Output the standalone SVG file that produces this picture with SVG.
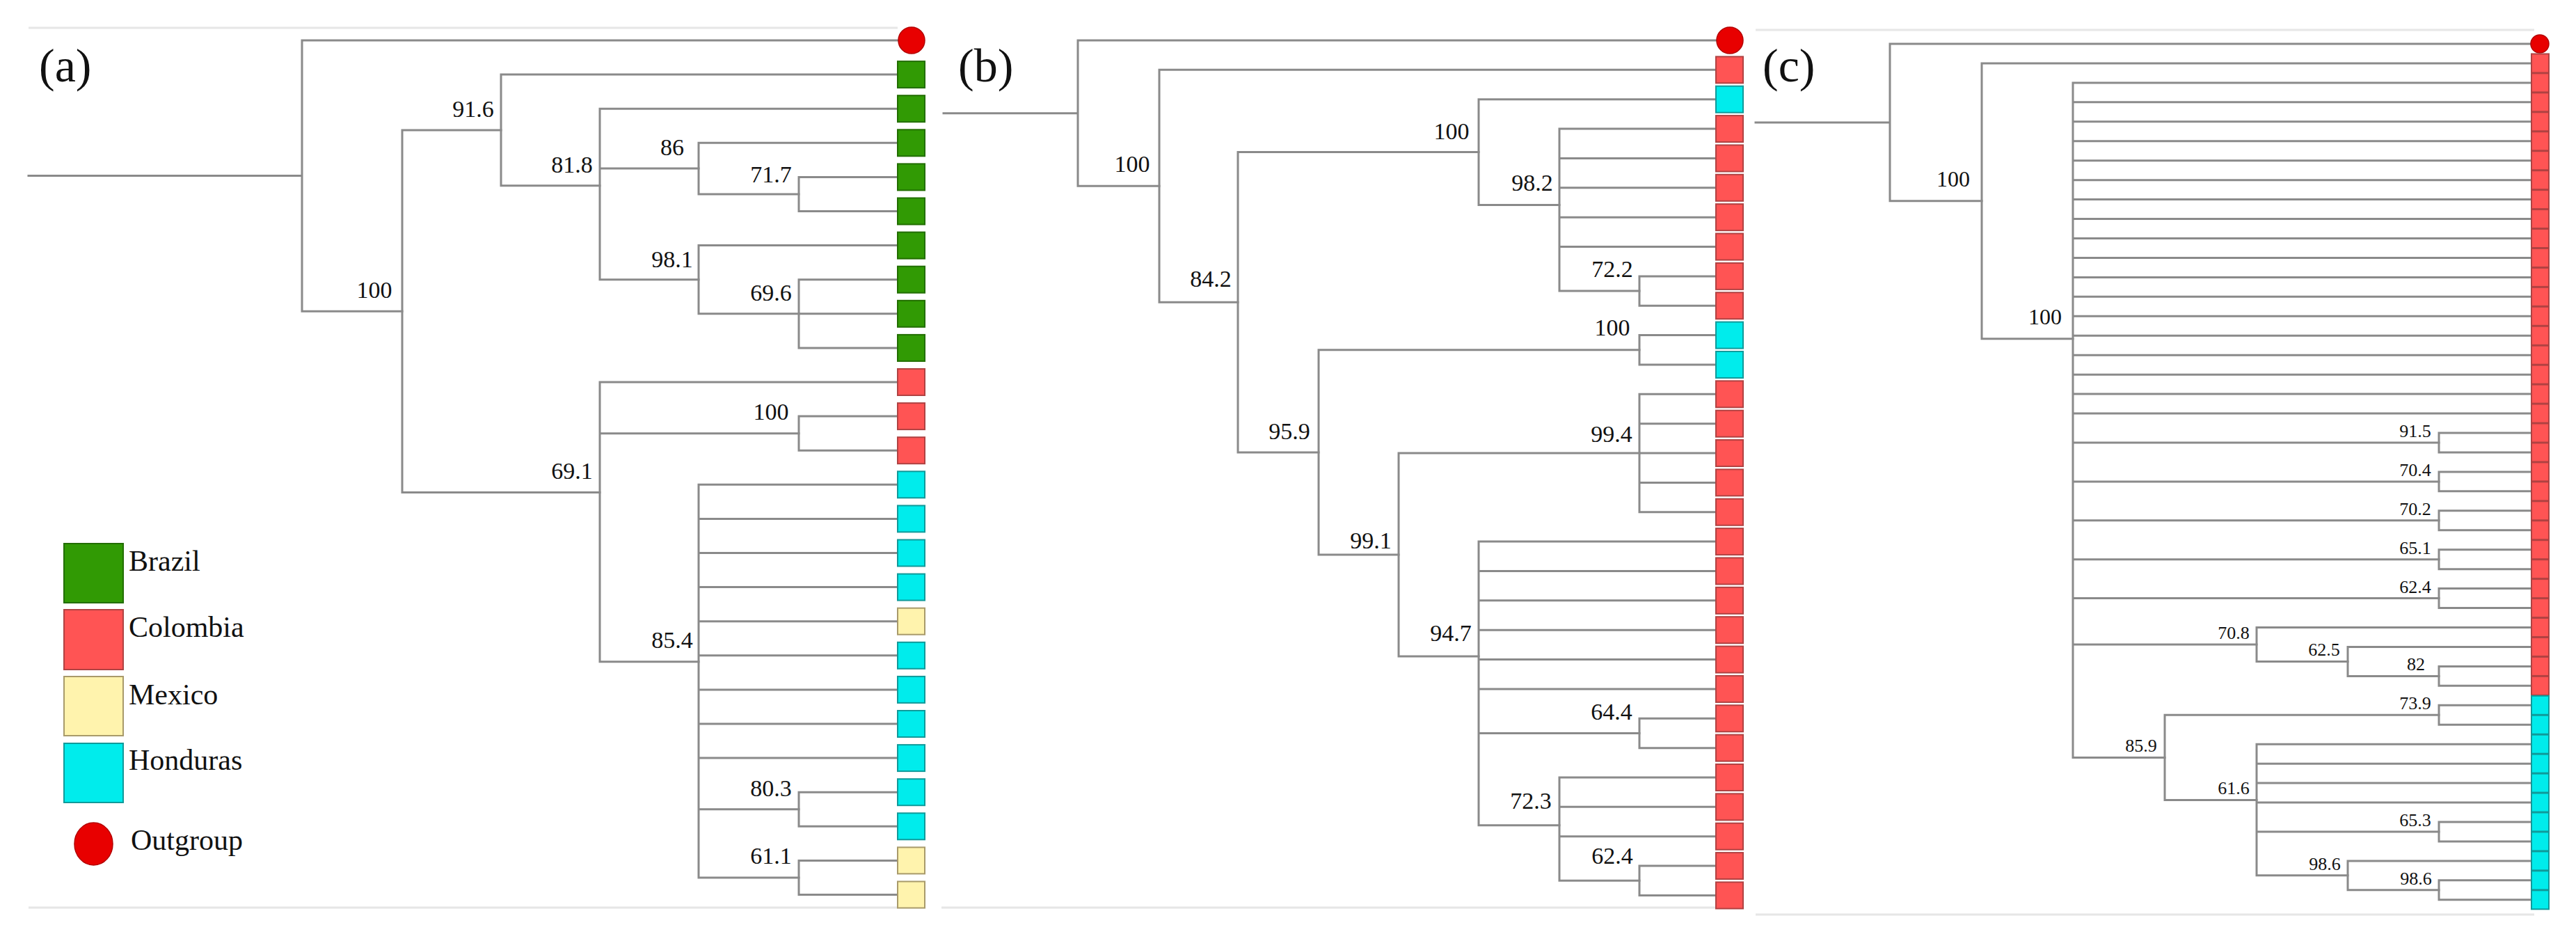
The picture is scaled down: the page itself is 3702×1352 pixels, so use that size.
<svg xmlns="http://www.w3.org/2000/svg" width="3702" height="1352" viewBox="0 0 3702 1352">
<style>
.br{fill:none;stroke:#8a8a8a;stroke-width:3;stroke-linecap:square}
.fr{stroke:#e6e6e6;stroke-width:3}
.g{fill:#319a04;stroke:#226e00;stroke-width:2}
.r{fill:#ff5454;stroke:#b04242;stroke-width:2}
.c{fill:#00ecec;stroke:#109a9a;stroke-width:2}
.y{fill:#fff3ad;stroke:#a89a6a;stroke-width:2}
.o{fill:#e80000;stroke:#b40000;stroke-width:1.5}
.lb{font-family:"Liberation Serif","Times New Roman",serif;font-size:34px;fill:#111;text-anchor:middle}
.ls{font-family:"Liberation Serif","Times New Roman",serif;font-size:26px;fill:#111;text-anchor:middle}
.lm{font-family:"Liberation Serif","Times New Roman",serif;font-size:32px;fill:#111;text-anchor:middle}
.pl{font-family:"Liberation Serif","Times New Roman",serif;font-size:68px;fill:#111}
.lg{font-family:"Liberation Serif","Times New Roman",serif;font-size:42px;fill:#111}
</style>
<rect width="3702" height="1352" fill="#fff"/>
<g id="frames">
<line class="fr" x1="41" y1="40" x2="1290" y2="40"/>
<line class="fr" x1="41" y1="1304" x2="1290" y2="1304"/>
<line class="fr" x1="1353" y1="1304" x2="2466" y2="1304"/>
<line class="fr" x1="2523" y1="43" x2="3642" y2="43"/>
<line class="fr" x1="2523" y1="1314" x2="3642" y2="1314"/>
</g>
<g id="panel-labels">
<text class="pl" x="56" y="117">(a)</text>
<text class="pl" x="1377" y="117">(b)</text>
<text class="pl" x="2533" y="117">(c)</text>
</g>
<g id="connectors">
<!-- panel a -->
<path class="br" d="M41,252.6H434M434,58V447.2M434,58H1291M434,447.2H578"/>
<path class="br" d="M578,186.9V707.46M578,186.9H720M578,707.46H862"/>
<path class="br" d="M720,107.1V266.7M720,107.1H1290M720,266.7H862"/>
<path class="br" d="M862,156.2V401.7M862,156.2H1290M862,242.1H1004M862,401.7H1004"/>
<path class="br" d="M1004,205.3V278.95M1004,205.3H1290M1004,278.95H1148"/>
<path class="br" d="M1148,254.4V303.5M1148,254.4H1290M1148,303.5H1290"/>
<path class="br" d="M1004,352.6V450.8M1004,352.6H1290M1004,450.8H1148"/>
<path class="br" d="M1148,401.7V499.9M1148,401.7H1290M1148,450.8H1290M1148,499.9H1290"/>
<path class="br" d="M862,549V950.73M862,549H1290M862,622.65H1148M862,950.73H1004"/>
<path class="br" d="M1148,598.1V647.2M1148,598.1H1290M1148,647.2H1290"/>
<path class="br" d="M1004,696.3V1260.95M1004,696.3H1290M1004,745.4H1290M1004,794.5H1290M1004,843.6H1290M1004,892.7H1290M1004,941.8H1290M1004,990.9H1290M1004,1040H1290M1004,1089.1H1290M1004,1162.75H1148M1004,1260.95H1148"/>
<path class="br" d="M1148,1138.2V1187.3M1148,1138.2H1290M1148,1187.3H1290"/>
<path class="br" d="M1148,1236.4V1285.5M1148,1236.4H1290M1148,1285.5H1290"/>
<!-- panel b -->
<path class="br" d="M1356,162.65H1549M1549,58V267.3M1549,58H2467M1549,267.3H1666"/>
<path class="br" d="M1666,100.36V434.24M1666,100.36H2466M1666,434.24H1779"/>
<path class="br" d="M1779,218.6V649.88M1779,218.6H2125M1779,649.88H1895"/>
<path class="br" d="M2125,142.72V294.51M2125,142.72H2466M2125,294.51H2241"/>
<path class="br" d="M2241,185.08V418.06M2241,185.08H2466M2241,227.44H2466M2241,269.8H2466M2241,312.16H2466M2241,354.52H2466M2241,418.06H2356"/>
<path class="br" d="M2356,396.88V439.24M2356,396.88H2466M2356,439.24H2466"/>
<path class="br" d="M1895,502.78V796.98M1895,502.78H2356M1895,796.98H2010"/>
<path class="br" d="M2356,481.6V523.96M2356,481.6H2466M2356,523.96H2466"/>
<path class="br" d="M2010,651.04V942.93M2010,651.04H2356M2010,942.93H2125"/>
<path class="br" d="M2356,566.32V735.76M2356,566.32H2466M2356,608.68H2466M2356,651.04H2466M2356,693.4H2466M2356,735.76H2466"/>
<path class="br" d="M2125,778.12V1185.84M2125,778.12H2466M2125,820.48H2466M2125,862.84H2466M2125,905.2H2466M2125,947.56H2466M2125,989.92H2466M2125,1053.46H2356M2125,1185.84H2241"/>
<path class="br" d="M2356,1032.28V1074.64M2356,1032.28H2466M2356,1074.64H2466"/>
<path class="br" d="M2241,1117V1265.26M2241,1117H2466M2241,1159.36H2466M2241,1201.72H2466M2241,1265.26H2356"/>
<path class="br" d="M2356,1244.08V1286.44M2356,1244.08H2466M2356,1286.44H2466"/>
<!-- panel c -->
<path class="br" d="M2523,175.94H2716M2716,63V288.87M2716,63H3637M2716,288.87H2848"/>
<path class="br" d="M2848,90.95V486.79M2848,90.95H3638M2848,486.79H2979"/>
<path class="br" d="M2979,118.9V1088.42M2979,118.9H3638M2979,146.85H3638M2979,174.8H3638M2979,202.75H3638M2979,230.7H3638M2979,258.65H3638M2979,286.6H3638M2979,314.55H3638M2979,342.5H3638M2979,370.45H3638M2979,398.4H3638M2979,426.35H3638M2979,454.3H3638M2979,482.25H3638M2979,510.2H3638M2979,538.15H3638M2979,566.1H3638M2979,594.05H3638M2979,635.98H3505M2979,691.88H3505M2979,747.78H3505M2979,803.68H3505M2979,859.58H3505M2979,925.96H3243M2979,1088.42H3111"/>
<path class="br" d="M3505,622V649.95M3505,622H3638M3505,649.95H3638"/>
<path class="br" d="M3505,677.9V705.85M3505,677.9H3638M3505,705.85H3638"/>
<path class="br" d="M3505,733.8V761.75M3505,733.8H3638M3505,761.75H3638"/>
<path class="br" d="M3505,789.7V817.65M3505,789.7H3638M3505,817.65H3638"/>
<path class="br" d="M3505,845.6V873.55M3505,845.6H3638M3505,873.55H3638"/>
<path class="br" d="M3243,901.5V950.41M3243,901.5H3638M3243,950.41H3374"/>
<path class="br" d="M3374,929.45V971.38M3374,929.45H3638M3374,971.38H3505"/>
<path class="br" d="M3505,957.4V985.35M3505,957.4H3638M3505,985.35H3638"/>
<path class="br" d="M3111,1027.28V1149.56M3111,1027.28H3505M3111,1149.56H3243"/>
<path class="br" d="M3505,1013.3V1041.25M3505,1013.3H3638M3505,1041.25H3638"/>
<path class="br" d="M3243,1069.2V1257.86M3243,1069.2H3638M3243,1097.15H3638M3243,1125.1H3638M3243,1153.05H3638M3243,1194.98H3505M3243,1257.86H3374"/>
<path class="br" d="M3505,1181V1208.95M3505,1181H3638M3505,1208.95H3638"/>
<path class="br" d="M3374,1236.9V1278.83M3374,1236.9H3638M3374,1278.83H3505"/>
<path class="br" d="M3505,1264.85V1292.8M3505,1264.85H3638M3505,1292.8H3638"/>
</g>
<g id="support-labels">
<text class="lb" x="538" y="428">100</text>
<text class="lb" x="680" y="168">91.6</text>
<text class="lb" x="822" y="248">81.8</text>
<text class="lb" x="966" y="223">86</text>
<text class="lb" x="1108" y="262">71.7</text>
<text class="lb" x="966" y="384">98.1</text>
<text class="lb" x="1108" y="432">69.6</text>
<text class="lb" x="822" y="688">69.1</text>
<text class="lb" x="1108" y="603">100</text>
<text class="lb" x="966" y="931">85.4</text>
<text class="lb" x="1108" y="1144">80.3</text>
<text class="lb" x="1108" y="1241">61.1</text>
<text class="lb" x="1627" y="247">100</text>
<text class="lb" x="1740" y="412">84.2</text>
<text class="lb" x="2086" y="200">100</text>
<text class="lb" x="2202" y="274">98.2</text>
<text class="lb" x="2317" y="398">72.2</text>
<text class="lb" x="1853" y="631">95.9</text>
<text class="lb" x="2317" y="482">100</text>
<text class="lb" x="1970" y="788">99.1</text>
<text class="lb" x="2316" y="635">99.4</text>
<text class="lb" x="2085" y="921">94.7</text>
<text class="lb" x="2316" y="1034">64.4</text>
<text class="lb" x="2200" y="1162">72.3</text>
<text class="lb" x="2317" y="1241">62.4</text>
<text class="lm" x="2807" y="268">100</text>
<text class="lm" x="2939" y="466">100</text>
<text class="ls" x="3471" y="628">91.5</text>
<text class="ls" x="3471" y="684">70.4</text>
<text class="ls" x="3471" y="740">70.2</text>
<text class="ls" x="3471" y="796">65.1</text>
<text class="ls" x="3471" y="852">62.4</text>
<text class="ls" x="3210" y="918">70.8</text>
<text class="ls" x="3340" y="942">62.5</text>
<text class="ls" x="3472" y="963">82</text>
<text class="ls" x="3471" y="1019">73.9</text>
<text class="ls" x="3077" y="1080">85.9</text>
<text class="ls" x="3210" y="1141">61.6</text>
<text class="ls" x="3471" y="1187">65.3</text>
<text class="ls" x="3341" y="1250">98.6</text>
<text class="ls" x="3472" y="1271">98.6</text>
</g>
<g id="legend">
<g id="legend-brazil"><rect class="g" x="92" y="781" width="85" height="85"/><text class="lg" x="185" y="820">Brazil</text></g>
<g id="legend-colombia"><rect class="r" x="92" y="876" width="85" height="86"/><text class="lg" x="185" y="915">Colombia</text></g>
<g id="legend-mexico"><rect class="y" x="92" y="972" width="85" height="85"/><text class="lg" x="185" y="1012">Mexico</text></g>
<g id="legend-honduras"><rect class="c" x="92" y="1068" width="85" height="85"/><text class="lg" x="185" y="1106">Honduras</text></g>
<g id="legend-outgroup"><ellipse class="o" cx="134.5" cy="1212.5" rx="27.5" ry="30.5"/><text class="lg" x="188" y="1221">Outgroup</text></g>
</g>
<g id="tips-a">
<g id="a0"><circle class="o" cx="1310" cy="58" r="19"/></g>
<g id="a1"><rect class="g" x="1290" y="88.1" width="39" height="38"/></g>
<g id="a2"><rect class="g" x="1290" y="137.2" width="39" height="38"/></g>
<g id="a3"><rect class="g" x="1290" y="186.3" width="39" height="38"/></g>
<g id="a4"><rect class="g" x="1290" y="235.4" width="39" height="38"/></g>
<g id="a5"><rect class="g" x="1290" y="284.5" width="39" height="38"/></g>
<g id="a6"><rect class="g" x="1290" y="333.6" width="39" height="38"/></g>
<g id="a7"><rect class="g" x="1290" y="382.7" width="39" height="38"/></g>
<g id="a8"><rect class="g" x="1290" y="431.8" width="39" height="38"/></g>
<g id="a9"><rect class="g" x="1290" y="480.9" width="39" height="38"/></g>
<g id="a10"><rect class="r" x="1290" y="530" width="39" height="38"/></g>
<g id="a11"><rect class="r" x="1290" y="579.1" width="39" height="38"/></g>
<g id="a12"><rect class="r" x="1290" y="628.2" width="39" height="38"/></g>
<g id="a13"><rect class="c" x="1290" y="677.3" width="39" height="38"/></g>
<g id="a14"><rect class="c" x="1290" y="726.4" width="39" height="38"/></g>
<g id="a15"><rect class="c" x="1290" y="775.5" width="39" height="38"/></g>
<g id="a16"><rect class="c" x="1290" y="824.6" width="39" height="38"/></g>
<g id="a17"><rect class="y" x="1290" y="873.7" width="39" height="38"/></g>
<g id="a18"><rect class="c" x="1290" y="922.8" width="39" height="38"/></g>
<g id="a19"><rect class="c" x="1290" y="971.9" width="39" height="38"/></g>
<g id="a20"><rect class="c" x="1290" y="1021" width="39" height="38"/></g>
<g id="a21"><rect class="c" x="1290" y="1070.1" width="39" height="38"/></g>
<g id="a22"><rect class="c" x="1290" y="1119.2" width="39" height="38"/></g>
<g id="a23"><rect class="c" x="1290" y="1168.3" width="39" height="38"/></g>
<g id="a24"><rect class="y" x="1290" y="1217.4" width="39" height="38"/></g>
<g id="a25"><rect class="y" x="1290" y="1266.5" width="39" height="38"/></g>
</g>
<g id="tips-b">
<g id="b0"><circle class="o" cx="2486" cy="58" r="19"/></g>
<g id="b1"><rect class="r" x="2466" y="81.36" width="39" height="38"/></g>
<g id="b2"><rect class="c" x="2466" y="123.72" width="39" height="38"/></g>
<g id="b3"><rect class="r" x="2466" y="166.08" width="39" height="38"/></g>
<g id="b4"><rect class="r" x="2466" y="208.44" width="39" height="38"/></g>
<g id="b5"><rect class="r" x="2466" y="250.8" width="39" height="38"/></g>
<g id="b6"><rect class="r" x="2466" y="293.16" width="39" height="38"/></g>
<g id="b7"><rect class="r" x="2466" y="335.52" width="39" height="38"/></g>
<g id="b8"><rect class="r" x="2466" y="377.88" width="39" height="38"/></g>
<g id="b9"><rect class="r" x="2466" y="420.24" width="39" height="38"/></g>
<g id="b10"><rect class="c" x="2466" y="462.6" width="39" height="38"/></g>
<g id="b11"><rect class="c" x="2466" y="504.96" width="39" height="38"/></g>
<g id="b12"><rect class="r" x="2466" y="547.32" width="39" height="38"/></g>
<g id="b13"><rect class="r" x="2466" y="589.68" width="39" height="38"/></g>
<g id="b14"><rect class="r" x="2466" y="632.04" width="39" height="38"/></g>
<g id="b15"><rect class="r" x="2466" y="674.4" width="39" height="38"/></g>
<g id="b16"><rect class="r" x="2466" y="716.76" width="39" height="38"/></g>
<g id="b17"><rect class="r" x="2466" y="759.12" width="39" height="38"/></g>
<g id="b18"><rect class="r" x="2466" y="801.48" width="39" height="38"/></g>
<g id="b19"><rect class="r" x="2466" y="843.84" width="39" height="38"/></g>
<g id="b20"><rect class="r" x="2466" y="886.2" width="39" height="38"/></g>
<g id="b21"><rect class="r" x="2466" y="928.56" width="39" height="38"/></g>
<g id="b22"><rect class="r" x="2466" y="970.92" width="39" height="38"/></g>
<g id="b23"><rect class="r" x="2466" y="1013.28" width="39" height="38"/></g>
<g id="b24"><rect class="r" x="2466" y="1055.64" width="39" height="38"/></g>
<g id="b25"><rect class="r" x="2466" y="1098" width="39" height="38"/></g>
<g id="b26"><rect class="r" x="2466" y="1140.36" width="39" height="38"/></g>
<g id="b27"><rect class="r" x="2466" y="1182.72" width="39" height="38"/></g>
<g id="b28"><rect class="r" x="2466" y="1225.08" width="39" height="38"/></g>
<g id="b29"><rect class="r" x="2466" y="1267.44" width="39" height="38"/></g>
</g>
<g id="tips-c">
<g id="c0"><circle class="o" cx="3650" cy="63" r="13"/></g>
<g id="c1"><rect class="r" x="3638" y="77.45" width="25" height="27"/></g>
<g id="c2"><rect class="r" x="3638" y="105.4" width="25" height="27"/></g>
<g id="c3"><rect class="r" x="3638" y="133.35" width="25" height="27"/></g>
<g id="c4"><rect class="r" x="3638" y="161.3" width="25" height="27"/></g>
<g id="c5"><rect class="r" x="3638" y="189.25" width="25" height="27"/></g>
<g id="c6"><rect class="r" x="3638" y="217.2" width="25" height="27"/></g>
<g id="c7"><rect class="r" x="3638" y="245.15" width="25" height="27"/></g>
<g id="c8"><rect class="r" x="3638" y="273.1" width="25" height="27"/></g>
<g id="c9"><rect class="r" x="3638" y="301.05" width="25" height="27"/></g>
<g id="c10"><rect class="r" x="3638" y="329" width="25" height="27"/></g>
<g id="c11"><rect class="r" x="3638" y="356.95" width="25" height="27"/></g>
<g id="c12"><rect class="r" x="3638" y="384.9" width="25" height="27"/></g>
<g id="c13"><rect class="r" x="3638" y="412.85" width="25" height="27"/></g>
<g id="c14"><rect class="r" x="3638" y="440.8" width="25" height="27"/></g>
<g id="c15"><rect class="r" x="3638" y="468.75" width="25" height="27"/></g>
<g id="c16"><rect class="r" x="3638" y="496.7" width="25" height="27"/></g>
<g id="c17"><rect class="r" x="3638" y="524.65" width="25" height="27"/></g>
<g id="c18"><rect class="r" x="3638" y="552.6" width="25" height="27"/></g>
<g id="c19"><rect class="r" x="3638" y="580.55" width="25" height="27"/></g>
<g id="c20"><rect class="r" x="3638" y="608.5" width="25" height="27"/></g>
<g id="c21"><rect class="r" x="3638" y="636.45" width="25" height="27"/></g>
<g id="c22"><rect class="r" x="3638" y="664.4" width="25" height="27"/></g>
<g id="c23"><rect class="r" x="3638" y="692.35" width="25" height="27"/></g>
<g id="c24"><rect class="r" x="3638" y="720.3" width="25" height="27"/></g>
<g id="c25"><rect class="r" x="3638" y="748.25" width="25" height="27"/></g>
<g id="c26"><rect class="r" x="3638" y="776.2" width="25" height="27"/></g>
<g id="c27"><rect class="r" x="3638" y="804.15" width="25" height="27"/></g>
<g id="c28"><rect class="r" x="3638" y="832.1" width="25" height="27"/></g>
<g id="c29"><rect class="r" x="3638" y="860.05" width="25" height="27"/></g>
<g id="c30"><rect class="r" x="3638" y="888" width="25" height="27"/></g>
<g id="c31"><rect class="r" x="3638" y="915.95" width="25" height="27"/></g>
<g id="c32"><rect class="r" x="3638" y="943.9" width="25" height="27"/></g>
<g id="c33"><rect class="r" x="3638" y="971.85" width="25" height="27"/></g>
<g id="c34"><rect class="c" x="3638" y="999.8" width="25" height="27"/></g>
<g id="c35"><rect class="c" x="3638" y="1027.75" width="25" height="27"/></g>
<g id="c36"><rect class="c" x="3638" y="1055.7" width="25" height="27"/></g>
<g id="c37"><rect class="c" x="3638" y="1083.65" width="25" height="27"/></g>
<g id="c38"><rect class="c" x="3638" y="1111.6" width="25" height="27"/></g>
<g id="c39"><rect class="c" x="3638" y="1139.55" width="25" height="27"/></g>
<g id="c40"><rect class="c" x="3638" y="1167.5" width="25" height="27"/></g>
<g id="c41"><rect class="c" x="3638" y="1195.45" width="25" height="27"/></g>
<g id="c42"><rect class="c" x="3638" y="1223.4" width="25" height="27"/></g>
<g id="c43"><rect class="c" x="3638" y="1251.35" width="25" height="27"/></g>
<g id="c44"><rect class="c" x="3638" y="1279.3" width="25" height="27"/></g>
</g>
</svg>
